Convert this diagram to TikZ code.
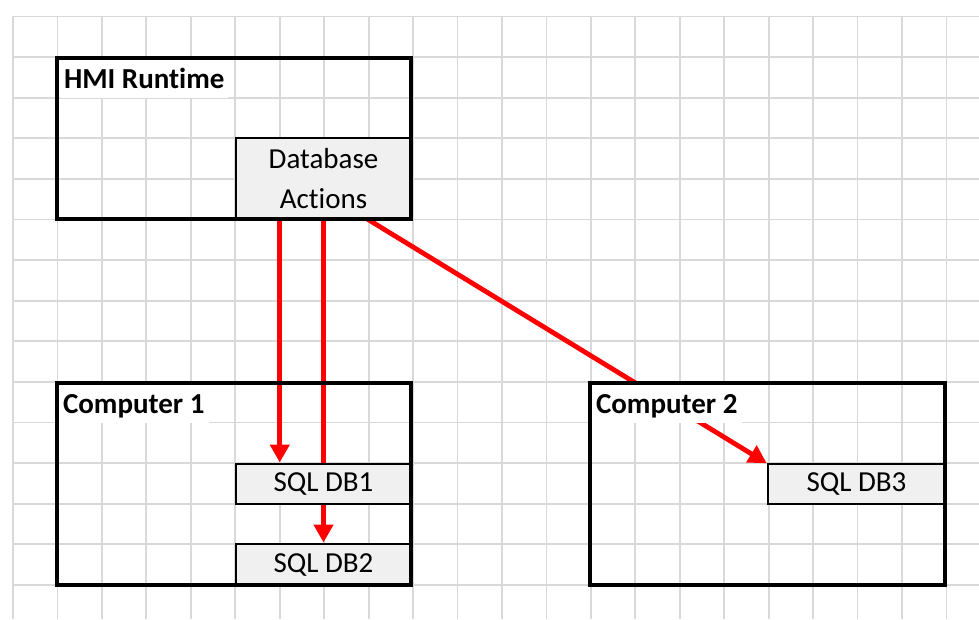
\documentclass[tikz,border=0pt]{standalone}
\usepackage{fontspec}
\setmainfont[Ligatures=NoCommon]{Carlito}
\usetikzlibrary{arrows.meta,calc}
\pgfdeclarelayer{gridlayer}
\pgfdeclarelayer{arrowlayer}
\pgfdeclarelayer{labellayer}
\pgfsetlayers{gridlayer,arrowlayer,labellayer,main}
\definecolor{gridgray}{RGB}{217,217,217}
\definecolor{dbfill}{RGB}{240,240,240}
\definecolor{arrowred}{RGB}{255,0,0}
\begin{document}
\begin{tikzpicture}[x=1pt,y=-1pt,
  font=\fontsize{29}{40}\selectfont,
  gridline/.style={draw=gridgray, line width=1.8pt},
  bigbox/.style={draw=black, line width=3.5pt, rectangle, inner sep=0pt, outer sep=0pt, anchor=north west},
  dbbox/.style={draw=black, line width=1.5pt, fill=dbfill, rectangle, inner sep=0pt, outer sep=0pt, anchor=north west, align=center},
  lbl/.style={fill=white, inner xsep=4pt, inner ysep=0pt, outer sep=0pt, minimum height=38pt, text height=25pt, text depth=7pt, anchor=north west, font=\fontsize{29}{40}\selectfont\bfseries},
  link/.style={draw=arrowred, line width=4.8pt},
  arr/.style={link, -{Triangle[width=19pt,length=18pt]}, shorten >=1.5pt},
]
\useasboundingbox (0,0) rectangle (979,619);

% background and grid
\begin{pgfonlayer}{gridlayer}
\fill[white] (0,0) rectangle (979,619);
\foreach \i in {0,...,21} \draw[gridline] ({13+44.45*\i},16) -- ({13+44.45*\i},619);
\foreach \j in {0,...,14} \draw[gridline] (13,{16.5+40.6*\j}) -- (979,{16.5+40.6*\j});
\end{pgfonlayer}

% labels (white backgrounds)
\begin{pgfonlayer}{labellayer}
\node[lbl] (hmilbl) at (60,60) {HMI Runtime};
\node[lbl] (c1lbl) at (59,385) {Computer 1\hspace{10pt}};
\node[lbl] (c2lbl) at (592,385) {Computer 2};
\end{pgfonlayer}

% inner database boxes
\node[dbbox, minimum width=175pt, minimum height=81pt] (dba) at (236,138) {Database\\Actions};
\node[dbbox, minimum width=175pt, minimum height=40pt] (db1) at (236,464) {SQL DB1};
\node[dbbox, minimum width=175pt, minimum height=41pt] (db2) at (236,544) {SQL DB2};
\node[dbbox, minimum width=177pt, minimum height=40pt] (db3) at (768,464) {SQL DB3};

% outer boxes
\node[bigbox, minimum width=354pt, minimum height=161pt] (hmi) at (57,58) {};
\node[bigbox, minimum width=354pt, minimum height=202pt] (c1) at (57,383) {};
\node[bigbox, minimum width=355pt, minimum height=202pt] (c2) at (590,383) {};

% connectors
\begin{pgfonlayer}{arrowlayer}
\coordinate (s1) at ($(dba.south west)!0.25!(dba.south east)$);
\coordinate (s2) at ($(dba.south west)!0.5!(dba.south east)$);
\coordinate (s3) at ($(dba.south west)!0.75!(dba.south east)$);
\draw[arr] (s1) -- (s1 |- db1.north);
\draw[arr] (s2) -- (s2 |- db2.north);
\draw[arr] (s3) -- (db3.north west);
\end{pgfonlayer}
\end{tikzpicture}
\end{document}
